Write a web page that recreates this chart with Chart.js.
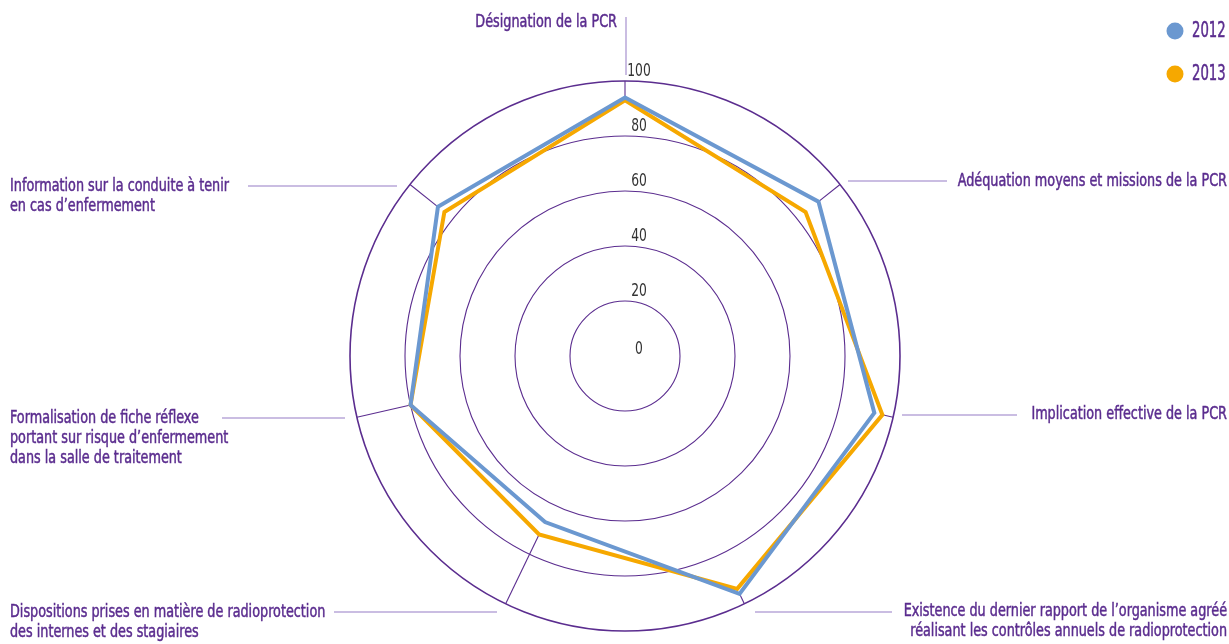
<!DOCTYPE html>
<html>
<head>
<meta charset="utf-8">
<title>PCR – radar 2012 / 2013</title>
<script src="https://cdn.jsdelivr.net/npm/chart.js@4.4.1/dist/chart.umd.min.js"></script>
<style>
  html, body { margin: 0; padding: 0; background: #fff; }
  canvas { display: block; }
</style>
</head>
<body>
<canvas id="pcr_radar" width="1229" height="644"></canvas>
<script>
// axes, clockwise from the top
const categories = [
    ['Désignation de la PCR'],
    ['Adéquation moyens et missions de la PCR'],
    ['Implication effective de la PCR'],
    ['Existence du dernier rapport de l’organisme agréé', 'réalisant les contrôles annuels de radioprotection'],
    ['Dispositions prises en matière de radioprotection', 'des internes et des stagiaires'],
    ['Formalisation de fiche réflexe', 'portant sur risque d’enfermement', 'dans la salle de traitement'],
    ['Information sur la conduite à tenir', 'en cas d’enfermement']
];
const values_2012 = [94, 90, 93, 96, 67, 80, 87];
const values_2013 = [93, 84, 96, 94, 72, 80, 84];
const series_names = ['2012', '2013'];
const tick_values = [0, 20, 40, 60, 80, 100];

const colours = ['#6b98d0', '#f6a800'];
const purple = '#5b2d8f';
const leader_colour = '#b9a7d8';
const font_family = "'DejaVu Sans Condensed', 'Liberation Sans Narrow', sans-serif";

// where each category label sits, and its leader line [x1, y1, x2, y2]
const label_layout = [
    { align: 'right', x: 617, y: 22, leader: [626, 17, 626, 75] },
    { align: 'right', x: 1227, y: 181, leader: [848, 181, 947, 181] },
    { align: 'right', x: 1227, y: 414, leader: [902, 415, 1017, 415] },
    { align: 'right', x: 1227, y: 611, leader: [755, 612, 892, 612] },
    { align: 'left', x: 10, y: 612, leader: [334, 612, 497, 612] },
    { align: 'left', x: 10, y: 418, leader: [222, 418, 345, 418] },
    { align: 'left', x: 10, y: 186, leader: [248, 186, 397, 186] }
];

// condensed text: squeeze the glyphs horizontally around the anchor,
// optionally with a hairline stroke to give a medium weight
function narrowText(ctx, text, x, y, sx, heavy) {
    ctx.save();
    ctx.translate(x, y);
    ctx.scale(sx, 1);
    ctx.fillText(text, 0, 0);
    if (heavy) {
        ctx.strokeStyle = ctx.fillStyle;
        ctx.lineWidth = 0.5;
        ctx.strokeText(text, 0, 0);
    }
    ctx.restore();
}

const annotate = {
    id: 'annotate',
    // short spokes, from the outer ring in to the highest value of the axis
    beforeDatasetsDraw(chart) {
        const scale = chart.scales.r;
        const ctx = chart.ctx;
        ctx.save();
        ctx.strokeStyle = purple;
        ctx.lineWidth = 1.1;
        for (var i = 0; i < categories.length; i++) {
            const top = Math.max(values_2012[i], values_2013[i]);
            const a = scale.getPointPosition(i, scale.drawingArea);
            const b = scale.getPointPosition(i, scale.getDistanceFromCenterForValue(top));
            ctx.beginPath();
            ctx.moveTo(a.x, a.y);
            ctx.lineTo(b.x, b.y);
            ctx.stroke();
        }
        ctx.restore();
    },
    afterDatasetsDraw(chart) {
        const scale = chart.scales.r;
        const ctx = chart.ctx;
        ctx.save();
        ctx.textBaseline = 'middle';

        // tick values, just above each ring
        ctx.fillStyle = '#333';
        ctx.font = '18px ' + font_family;
        ctx.textAlign = 'center';
        tick_values.forEach(function (v) {
            const d = scale.getDistanceFromCenterForValue(v);
            const lift = v === 0 ? 7 : 10;
            narrowText(ctx, String(v), scale.xCenter + 14, scale.yCenter - d - lift, 0.76, false);
        });

        // leader lines
        ctx.strokeStyle = leader_colour;
        ctx.lineWidth = 1.5;
        label_layout.forEach(function (l) {
            ctx.beginPath();
            ctx.moveTo(l.leader[0], l.leader[1]);
            ctx.lineTo(l.leader[2], l.leader[3]);
            ctx.stroke();
        });

        // category labels
        ctx.fillStyle = purple;
        ctx.font = '18px ' + font_family;
        categories.forEach(function (lines, i) {
            const l = label_layout[i];
            ctx.textAlign = l.align;
            lines.forEach(function (line, k) {
                narrowText(ctx, line, l.x, l.y + k * 20, 0.79, true);
            });
        });

        // legend, top right
        ctx.font = '21px ' + font_family;
        ctx.textAlign = 'left';
        chart.data.datasets.forEach(function (ds, i) {
            const y = 31 + i * 43;
            ctx.fillStyle = ds.borderColor;
            ctx.beginPath();
            ctx.arc(1175, y, 8.5, 0, Math.PI * 2);
            ctx.fill();
            ctx.fillStyle = purple;
            narrowText(ctx, ds.label, 1192, y + 1, 0.7, true);
        });

        ctx.restore();
    }
};

const canvas = document.getElementById('pcr_radar');
const chart = new Chart(canvas, {
    type: 'radar',
    data: {
        labels: categories,
        datasets: [
            { label: series_names[0], data: values_2012, borderColor: colours[0], backgroundColor: colours[0] },
            { label: series_names[1], data: values_2013, borderColor: colours[1], backgroundColor: colours[1] }
        ]
    },
    options: {
        responsive: false,
        animation: false,
        layout: { padding: { left: 21, right: 0, top: 81, bottom: 13 } },
        elements: {
            line: { borderWidth: 4, fill: false, tension: 0, borderJoinStyle: 'miter' },
            point: { radius: 0, hoverRadius: 0 }
        },
        scales: {
            r: {
                min: 0,
                max: 100,
                ticks: { stepSize: 20, display: false },
                grid: {
                    circular: true,
                    color: purple,
                    lineWidth: (c) => c.index === 5 ? 1.6 : 1.1
                },
                angleLines: { display: false },
                pointLabels: { display: false }
            }
        },
        plugins: {
            legend: { display: false },
            tooltip: { enabled: false }
        }
    },
    plugins: [annotate]
});
</script>
</body>
</html>
